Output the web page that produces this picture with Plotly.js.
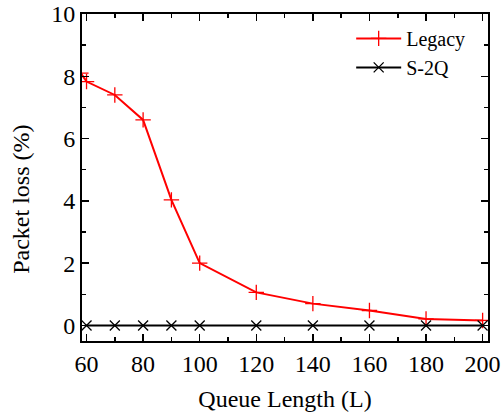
<!DOCTYPE html>
<html>
<head>
<meta charset="utf-8">
<script src="https://cdn.plot.ly/plotly-3.0.1.min.js"></script>
<style>html,body{margin:0;padding:0;background:#fff;}#chart{width:503px;height:417px;}</style>
</head>
<body>
<div id="chart"></div>
<script>
// Data
const queueLengthLegacy = [58, 60, 70, 80, 90, 100, 120, 140, 160, 180, 200];
const lossLegacy = [8.1, 7.83, 7.40, 6.60, 4.03, 2.0, 1.06, 0.70, 0.48, 0.21, 0.16];
const queueLengthS2Q = [60, 70, 80, 90, 100, 120, 140, 160, 180, 200];
const lossS2Q = [0, 0, 0, 0, 0, 0, 0, 0, 0, 0];
const xTicks = [60, 80, 100, 120, 140, 160, 180, 200];
const yTicks = [0, 2, 4, 6, 8, 10];
const seriesNames = ['Legacy', 'S-2Q'];
const xTitle = 'Queue Length (L)';
const yTitle = 'Packet loss (%)';

const FONT = 'Liberation Serif';

const traces = [
  {
    x: queueLengthLegacy, y: lossLegacy, name: seriesNames[0],
    type: 'scatter', mode: 'lines+markers',
    line: {color: '#ff0000', width: 2},
    marker: {symbol: 'cross-thin', size: 11, color: '#ff0000', line: {color: '#ff0000', width: 1.3}},
    cliponaxis: true
  },
  {
    x: queueLengthS2Q, y: lossS2Q, name: seriesNames[1],
    type: 'scatter', mode: 'lines+markers',
    line: {color: '#000000', width: 2},
    marker: {symbol: 'x-thin', size: 10, color: '#000000', line: {color: '#000000', width: 1.3}},
    cliponaxis: true
  }
];

const axisCommon = {
  showline: true, linewidth: 2, linecolor: '#000', mirror: 'ticks',
  ticks: 'inside', ticklen: 7, tickwidth: 1.5, tickcolor: '#000',
  showgrid: false, zeroline: false,
  tickfont: {family: FONT, size: 24, color: '#000'}
};

const layout = {
  width: 503, height: 417,
  margin: {l: 82, r: 15, t: 14, b: 76, pad: 0},
  paper_bgcolor: '#fff', plot_bgcolor: '#fff',
  font: {family: FONT, size: 24, color: '#000'},
  showlegend: true,
  legend: {
    x: 0.663, y: 0.985, xanchor: 'left', yanchor: 'top',
    bgcolor: 'rgba(0,0,0,0)', borderwidth: 0,
    font: {family: FONT, size: 20, color: '#000'},
    itemwidth: 45, tracegroupgap: 0
  },
  xaxis: Object.assign({}, axisCommon, {
    range: [58.4, 201.9], tickmode: 'array', tickvals: xTicks, ticktext: xTicks.map(String),
    minor: {tickmode: 'linear', tick0: 60, dtick: 10, ticks: 'inside', ticklen: 4, tickwidth: 1.5, tickcolor: '#000', showgrid: false},
    title: {text: xTitle, font: {family: FONT, size: 24, color: '#000'}, standoff: 14}
  }),
  yaxis: Object.assign({}, axisCommon, {
    range: [-0.5, 10], tickmode: 'array', tickvals: yTicks, ticktext: yTicks.map(String),
    minor: {tickmode: 'linear', tick0: 0, dtick: 1, ticks: 'inside', ticklen: 4, tickwidth: 1.5, tickcolor: '#000', showgrid: false}
  }),
  annotations: [{
    text: yTitle, xref: 'paper', yref: 'paper', x: -0.15, y: 0.432,
    xanchor: 'center', yanchor: 'middle', textangle: -90, showarrow: false,
    font: {family: FONT, size: 24, color: '#000'}
  }]
};

Plotly.newPlot('chart', traces, layout, {staticPlot: true, displayModeBar: false});
</script>
</body>
</html>
